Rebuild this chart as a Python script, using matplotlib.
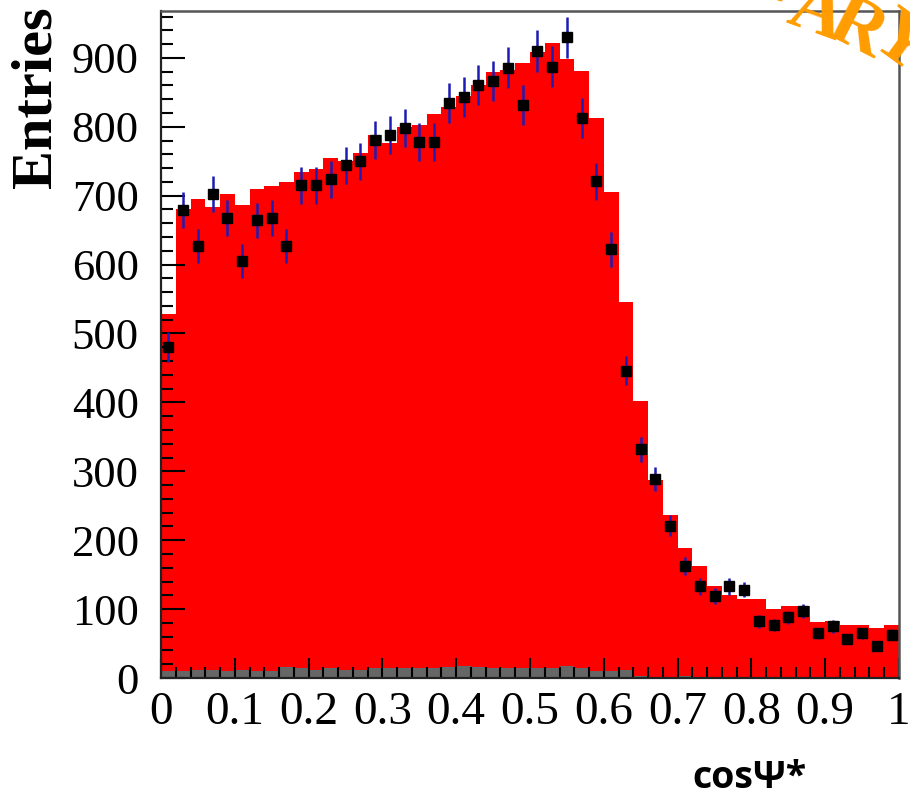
import numpy as np
import matplotlib
matplotlib.use("Agg")
import matplotlib.pyplot as plt

# cos(psi*) histogram, 50 bins from 0 to 1
edges = np.linspace(0, 1, 51)

# MC prediction (red)
mc_counts = [528, 680, 695, 683, 703, 686, 709, 714, 720, 734,
             739, 754, 750, 762, 788, 777, 799, 802, 819, 828,
             844, 860, 880, 883, 893, 908, 921, 898, 881, 812,
             706, 546, 402, 288, 236, 188, 162, 133, 120, 114,
             114, 100, 104, 104, 81, 83, 77, 77, 72, 77]

# background (grey) and a tiny blue component at the bottom
bkg_counts = [10, 10, 12, 12, 10, 12, 10, 10, 16, 14,
              12, 14, 12, 12, 14, 14, 14, 14, 14, 16,
              18, 16, 14, 14, 14, 14, 14, 18, 14, 10,
              10, 12, 3, 2, 2, 3, 1, 1, 1, 1,
              1, 1, 1, 1, 1, 1, 1, 1, 2, 1]
blue_counts = [0, 0, 2, 0, 0, 0, 0, 0, 0, 0,
               2, 0, 0, 0, 0, 0, 0, 0, 0, 0,
               0, 0, 0, 0, 0, 0, 0, 2, 2, 0,
               0, 0, 2, 0, 2, 0, 0, 0, 0, 2,
               2, 0, 0, 0, 0, 2, 2, 0, 0, 2]

# data points with errors
data_counts = [480, 679, 627, 702, 667, 605, 664, 667, 627, 715,
               715, 724, 744, 750, 781, 788, 798, 778, 778, 835,
               843, 860, 866, 886, 832, 910, 887, 930, 813, 721,
               622, 446, 332, 289, 221, 162, 133, 119, 133, 128,
               82, 77, 88, 97, 65, 75, 56, 65, 46, 63]
data_errors = [22, 26, 25, 26, 26, 25, 26, 26, 25, 27,
               27, 27, 27, 27, 28, 28, 28, 28, 28, 29,
               29, 29, 29, 30, 29, 30, 30, 30, 29, 27,
               25, 21, 18, 17, 15, 13, 12, 11, 12, 11,
               9, 9, 9, 10, 8, 9, 7, 8, 7, 8]

xtick_vals = [0, 0.1, 0.2, 0.3, 0.4, 0.5, 0.6, 0.7, 0.8, 0.9, 1]
xtick_labels = ["0", "0.1", "0.2", "0.3", "0.4", "0.5", "0.6", "0.7", "0.8", "0.9", "1"]
ytick_vals = [0, 100, 200, 300, 400, 500, 600, 700, 800, 900]

W, H = 910, 801
fig = plt.figure(figsize=(W / 100, H / 100), dpi=100)
ax = fig.add_axes([161 / W, 1 - 678 / H, (899 - 161) / W, (678 - 11) / H])

centers = 0.5 * (edges[:-1] + edges[1:])
ax.stairs(mc_counts, edges, fill=True, color="#ff0000", zorder=1)
ax.stairs(bkg_counts, edges, fill=True, color="#666666", zorder=1.1)
ax.stairs(blue_counts, edges, fill=True, color="#4444dd", zorder=1.2)
ax.errorbar(centers, data_counts, yerr=data_errors, fmt="s", color="black",
            ecolor="#1c1cb4", elinewidth=1.8, capsize=0, markersize=6.5,
            zorder=3)

ax.set_xlim(0, 1)
ax.set_ylim(0, 968)
ax.set_xticks(xtick_vals)
ax.set_xticklabels(xtick_labels)
ax.set_xticks(np.arange(0, 1.0001, 0.02), minor=True)
ax.set_yticks(ytick_vals)
ax.set_yticklabels([str(v) for v in ytick_vals])
ax.set_yticks(np.arange(0, 968, 20), minor=True)

serif = "Liberation Serif"
ax.tick_params(axis="x", which="major", direction="in", length=14.5, width=1.5,
               pad=10, labelsize=34, top=False)
ax.tick_params(axis="x", which="minor", direction="in", length=8, width=1.5, top=False)
ax.tick_params(axis="y", which="major", direction="in", length=17, width=1.5,
               pad=16, labelsize=32, right=False)
ax.tick_params(axis="y", which="minor", direction="in", length=8.5, width=1.5, right=False)
for lab in ax.get_xticklabels() + ax.get_yticklabels():
    lab.set_fontfamily(serif)

for side in ["left", "bottom"]:
    ax.spines[side].set_linewidth(1.6)
    ax.spines[side].set_color("#222222")
for side in ["top", "right"]:
    ax.spines[side].set_linewidth(1.8)
    ax.spines[side].set_color("#555555")

fig.text(37 / W, 1 - 6 / H, "Entries", rotation=90, ha="center", va="top",
         fontsize=42, fontweight="bold", family=serif)
fig.text(806 / W, 1 - 797 / H, "cosΨ*", ha="right", va="bottom",
         fontsize=27, fontweight="bold", family=["Open Sans", "DejaVu Sans"])

# partly visible "PRELIMINARY" stamp at the top right
stamp = [("N", 766, -20, -12), ("A", 816, 14, -20), ("R", 857, 30, -27), ("Y", 900, 44, -36)]
for ch, px, py, rot in stamp:
    fig.text(px / W, 1 - py / H, ch, rotation=rot, ha="center", va="center",
             fontsize=54, fontweight="bold", family=serif, color="#ff9c00")

fig.savefig("out.png", dpi=100)
